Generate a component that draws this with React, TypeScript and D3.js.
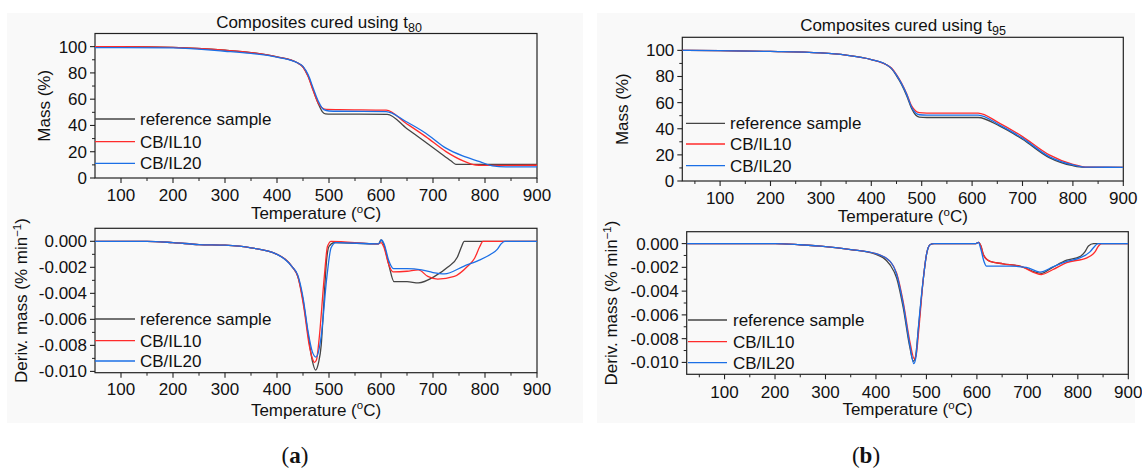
import React from "react";
import * as d3 from "d3";

type Pt = [number, number];

// ---------- DATA ----------
const seriesNames = ["reference sample", "CB/IL10", "CB/IL20"];
const seriesColors = ["#454545", "#ff2b2b", "#1b6fe6"];

const tempTicks = [100, 200, 300, 400, 500, 600, 700, 800, 900];
const massTicks = [0, 20, 40, 60, 80, 100];
const derivTicks = [0, -0.002, -0.004, -0.006, -0.008, -0.01];

// (a) cured using t80 — mass (%)
const massA_ref: Pt[] = [[50,100],[100,100],[200,99.5],[300,97.3],[350,95.5],[400,92.2],[440,87.5],[450,84.5],[460,77.5],[470,66.5],[480,56],[487,50.5],[493,48.8],[505,48.6],[612,48.5],[650,37.5],[680,28.9],[710,20.2],[735,12.9],[744,10.4],[760,10.4],[900,10.4]];
const massA_il10: Pt[] = [[50,100],[100,100],[200,99.5],[300,97.3],[350,95.5],[400,92.2],[440,87.5],[450,84.5],[460,77],[470,66],[480,56.5],[488,53],[495,52.2],[520,52],[610,51.6],[648,41.7],[686,31.5],[725,20.1],[757,13.2],[782,9.9],[795,9.6],[900,9.7]];
const massA_il20: Pt[] = [[50,99.3],[100,99.2],[200,99],[300,96.5],[350,94.8],[400,92],[440,87.5],[450,85],[460,78.5],[470,68],[480,58],[490,52],[500,51],[520,50.8],[610,50.6],[648,43],[686,34.1],[725,22.7],[757,16.8],[790,12.5],[814,9.2],[840,8.4],[900,8.4]];

// (a) cured using t80 — derivative mass (% min^-1)
const derivA_ref: Pt[] = [[50,0],[150,0],[200,-0.0001],[250,-0.00025],[300,-0.0003],[350,-0.0005],[400,-0.001],[430,-0.002],[440,-0.0027],[450,-0.0045],[460,-0.0072],[468,-0.0092],[474,-0.0099],[480,-0.0093],[485,-0.008],[490,-0.0048],[495,-0.0016],[500,-0.0004],[510,-0.0001],[595,-0.0002],[600,0.0001],[605,-0.0002],[615,-0.0018],[625,-0.0031],[650,-0.0031],[672,-0.0032],[703,-0.0027],[728,-0.002],[747,-0.0012],[755,-0.0004],[760,0],[900,0]];
const derivA_il10: Pt[] = [[50,0],[150,0],[200,-0.0001],[250,-0.00025],[300,-0.0003],[350,-0.0005],[400,-0.001],[430,-0.002],[440,-0.0027],[452,-0.0052],[462,-0.008],[468,-0.009],[472,-0.0093],[476,-0.0091],[481,-0.0075],[491,-0.0027],[497,-0.0004],[504,0],[595,-0.0002],[600,-0.0001],[605,-0.0004],[615,-0.0018],[623,-0.00235],[650,-0.0023],[672,-0.0022],[690,-0.0027],[709,-0.0029],[741,-0.0027],[767,-0.0019],[780,-0.0013],[790,-0.0004],[796,0],[900,0]];
const derivA_il20: Pt[] = [[50,0],[150,0],[200,-0.0001],[250,-0.00025],[300,-0.0003],[350,-0.0005],[400,-0.001],[430,-0.002],[440,-0.0026],[450,-0.0043],[460,-0.007],[468,-0.0085],[475,-0.0089],[479,-0.0086],[485,-0.0073],[496,-0.0027],[504,-0.0005],[513,-0.0001],[595,-0.0002],[601,0.0001],[606,-0.0002],[615,-0.0015],[624,-0.0021],[650,-0.0021],[678,-0.0022],[700,-0.0024],[722,-0.0025],[760,-0.0019],[786,-0.0015],[811,-0.001],[824,-0.0006],[831,-0.0002],[838,0],[900,0]];

// (b) cured using t95 — mass (%)
const massB_ref: Pt[] = [[25,100],[100,99.8],[200,99.2],[300,98],[350,96.3],[400,92.9],[430,89],[440,86],[450,80.5],[460,74],[470,65.5],[480,55.5],[488,50.5],[495,48.9],[510,48.6],[612,48.6],[654,42.2],[700,32],[753,17.9],[800,11.7],[822,10.5],[900,10.5]];
const massB_il10: Pt[] = [[25,100],[100,99.8],[200,99.2],[300,98],[350,96.3],[400,93],[430,89],[440,86.5],[450,81.5],[460,75],[470,67],[480,57.5],[488,53.5],[495,52.3],[510,52],[612,52],[654,44.3],[700,34],[753,20],[800,12.8],[830,10.6],[900,10.5]];
const massB_il20: Pt[] = [[25,100],[100,99.8],[200,99.2],[300,98],[350,96.3],[400,93],[430,89],[440,86.2],[450,81],[460,74.5],[470,66.5],[480,56.5],[488,52],[495,50.7],[510,50.4],[612,50.4],[654,43],[700,32.8],[753,18.7],[800,12.3],[825,10.6],[900,10.5]];

// (b) cured using t95 — derivative mass (% min^-1)
const derivB_ref: Pt[] = [[25,0],[150,0],[200,0],[250,-0.0001],[300,-0.00025],[350,-0.0005],[400,-0.0009],[428,-0.0018],[441,-0.0029],[454,-0.0054],[467,-0.0087],[474,-0.0099],[478,-0.0096],[484,-0.0072],[494,-0.0029],[500,-0.00095],[507,-0.0001],[515,0],[598,0],[603,0.0001],[608,-0.0002],[613,-0.00095],[626,-0.0015],[652,-0.0017],[685,-0.0019],[728,-0.0025],[750,-0.002],[778,-0.0014],[804,-0.0011],[814,-0.0007],[821,-0.0002],[831,0],[900,0]];
const derivB_il10: Pt[] = [[25,0],[150,0],[200,0],[250,-0.0001],[300,-0.00025],[350,-0.0005],[400,-0.00085],[428,-0.0015],[441,-0.0025],[454,-0.0049],[467,-0.0082],[476,-0.0097],[480,-0.0093],[485,-0.0072],[494,-0.0029],[500,-0.00095],[507,-0.0001],[515,0],[598,0],[603,0.0001],[608,-0.0002],[613,-0.00095],[626,-0.0015],[652,-0.0017],[685,-0.0019],[728,-0.0026],[750,-0.0022],[778,-0.0016],[818,-0.0012],[834,-0.0007],[841,-0.0002],[847,0],[900,0]];
const derivB_il20: Pt[] = [[25,0],[150,0],[200,0],[250,-0.0001],[300,-0.00025],[350,-0.0005],[400,-0.00085],[428,-0.0015],[441,-0.0026],[454,-0.0051],[467,-0.0085],[475,-0.0101],[479,-0.0096],[484,-0.0071],[494,-0.0029],[500,-0.00095],[507,-0.0001],[515,0],[598,0],[603,0.0001],[608,-0.0005],[614,-0.0015],[619,-0.0019],[665,-0.0019],[698,-0.002],[725,-0.0024],[751,-0.00195],[778,-0.0015],[804,-0.0012],[824,-0.0007],[834,-0.0002],[840,0],[900,0]];

// ---------- RENDER ----------
const FONT = "'Liberation Sans', Arial, Helvetica, sans-serif";
const FS = 17;

const fmtMass = (v: number) => String(v);
const fmtDeriv = (v: number) => (v === 0 ? "0.000" : "-" + Math.abs(v).toFixed(3));

interface PanelProps {
  box: [number, number, number, number];
  xDomain: [number, number];
  yDomain: [number, number];
  yTicks: number[];
  yMinor: number[];
  xMinor: number[];
  fmt: (v: number) => string;
  series: Pt[][];
  legend: { x0: number; x1: number; tx: number; ys: number[] };
  yLabel: React.ReactNode;
  yLabelX: number;
  xLabelY: number;
  tickLabelY: number;
}

function TempLabel({ x, y }: { x: number; y: number }) {
  return (
    <text x={x} y={y} textAnchor="middle" fontFamily={FONT} fontSize={FS} fill="#111">
      Temperature (<tspan fontSize={11.5} dy={-6.5}>o</tspan>
      <tspan dy={6.5}>C)</tspan>
    </text>
  );
}

function Panel(p: PanelProps) {
  const [x0, x1, yT, yB] = p.box;
  const xs = d3.scaleLinear().domain(p.xDomain).range([x0, x1]);
  const ys = d3.scaleLinear().domain(p.yDomain).range([yB, yT]);
  const line = d3
    .line<Pt>()
    .x((d) => xs(d[0]))
    .y((d) => ys(d[1]))
    .curve(d3.curveMonotoneX);
  const xc = (x0 + x1) / 2;
  const yc = (yT + yB) / 2;
  const cid = "clip" + Math.round(x0) + "_" + Math.round(yT);
  return (
    <g>
      <rect x={x0} y={yT} width={x1 - x0} height={yB - yT} fill="none" stroke="#222" strokeWidth={1.2} />
      {tempTicks.map((t) => (
        <g key={"xt" + t}>
          <line x1={xs(t)} x2={xs(t)} y1={yB} y2={yB + 5} stroke="#222" strokeWidth={1.1} />
          <text x={xs(t)} y={p.tickLabelY} textAnchor="middle" fontFamily={FONT} fontSize={FS} fill="#111">
            {t}
          </text>
        </g>
      ))}
      {p.xMinor.map((t) => (
        <line key={"xm" + t} x1={xs(t)} x2={xs(t)} y1={yB} y2={yB + 3} stroke="#222" strokeWidth={1} />
      ))}
      {p.yTicks.map((v) => (
        <g key={"yt" + v}>
          <line x1={x0 - 5} x2={x0} y1={ys(v)} y2={ys(v)} stroke="#222" strokeWidth={1.1} />
          <text x={x0 - 8} y={ys(v) + 6} textAnchor="end" fontFamily={FONT} fontSize={FS} fill="#111">
            {p.fmt(v)}
          </text>
        </g>
      ))}
      {p.yMinor.map((v) => (
        <line key={"ym" + v} x1={x0 - 3} x2={x0} y1={ys(v)} y2={ys(v)} stroke="#222" strokeWidth={1} />
      ))}
      <clipPath id={cid}>
        <rect x={x0} y={yT} width={x1 - x0} height={yB - yT} />
      </clipPath>
      <g clipPath={`url(#${cid})`}>
        {p.series.map((s, i) => (
          <path key={i} d={line(s) || ""} fill="none" stroke={seriesColors[i]} strokeWidth={1.3} />
        ))}
      </g>
      {seriesNames.map((n, i) => (
        <g key={n}>
          <line x1={p.legend.x0} x2={p.legend.x1} y1={p.legend.ys[i]} y2={p.legend.ys[i]} stroke={seriesColors[i]} strokeWidth={1.3} />
          <text x={p.legend.tx} y={p.legend.ys[i] + 6} fontFamily={FONT} fontSize={FS} fill="#111">
            {n}
          </text>
        </g>
      ))}
      <TempLabel x={xc} y={p.xLabelY} />
      <text
        transform={`translate(${p.yLabelX + 6},${yc}) rotate(-90)`}
        textAnchor="middle"
        fontFamily={FONT}
        fontSize={FS}
        fill="#111"
      >
        {p.yLabel}
      </text>
    </g>
  );
}

const massMinor = [10, 30, 50, 70, 90];
const derivMinor = [-0.001, -0.003, -0.005, -0.007, -0.009];
const xMinorA = [150, 250, 350, 450, 550, 650, 750, 850];
const xMinorB = [50, 150, 250, 350, 450, 550, 650, 750, 850];

const derivLabel = (
  <>
    Deriv. mass (% min<tspan fontSize={11.5} dy={-6.5}>−1</tspan>
    <tspan dy={6.5}>)</tspan>
  </>
);

export default function App() {
  return (
    <svg width={1142} height={468} style={{ position: "absolute", left: 0, top: 0, background: "#fff" }}>
      <rect x={7} y={13} width={576} height={410} fill="#f9f9f9" />
      <rect x={597} y={13} width={538} height={410} fill="#f9f9f9" />

      {/* (a) */}
      <text x={319} y={28} textAnchor="middle" fontFamily={FONT} fontSize={FS} fill="#111">
        Composites cured using t<tspan fontSize={12.5} dy={4}>80</tspan>
      </text>
      <Panel
        box={[95, 537, 33.5, 178]}
        xDomain={[50, 900]}
        yDomain={[0, 110]}
        yTicks={massTicks}
        yMinor={massMinor}
        xMinor={xMinorA}
        fmt={fmtMass}
        series={[massA_ref, massA_il10, massA_il20]}
        legend={{ x0: 95, x1: 135, tx: 140, ys: [119, 141.7, 163.3] }}
        yLabel="Mass (%)"
        yLabelX={44}
        xLabelY={219}
        tickLabelY={201}
      />
      <Panel
        box={[95, 537, 228.3, 372.7]}
        xDomain={[50, 900]}
        yDomain={[-0.0101, 0.001]}
        yTicks={derivTicks}
        yMinor={derivMinor}
        xMinor={xMinorA}
        fmt={fmtDeriv}
        series={[derivA_ref, derivA_il10, derivA_il20]}
        legend={{ x0: 95, x1: 135, tx: 140, ys: [319, 340.7, 361] }}
        yLabel={derivLabel}
        yLabelX={21}
        xLabelY={415.5}
        tickLabelY={395}
      />

      {/* (b) */}
      <text x={903} y={31} textAnchor="middle" fontFamily={FONT} fontSize={FS} fill="#111">
        Composites cured using t<tspan fontSize={12.5} dy={4}>95</tspan>
      </text>
      <Panel
        box={[682.3, 1123.3, 37.3, 181]}
        xDomain={[25, 900]}
        yDomain={[0, 110]}
        yTicks={massTicks}
        yMinor={massMinor}
        xMinor={xMinorB}
        fmt={fmtMass}
        series={[massB_ref, massB_il10, massB_il20]}
        legend={{ x0: 686, x1: 725, tx: 730, ys: [123.3, 144, 165.7] }}
        yLabel="Mass (%)"
        yLabelX={622}
        xLabelY={222}
        tickLabelY={204}
      />
      <Panel
        box={[686.7, 1128.3, 231.7, 374.3]}
        xDomain={[25, 900]}
        yDomain={[-0.011, 0.001]}
        yTicks={derivTicks}
        yMinor={derivMinor}
        xMinor={xMinorB}
        fmt={fmtDeriv}
        series={[derivB_ref, derivB_il10, derivB_il20]}
        legend={{ x0: 688, x1: 727, tx: 733, ys: [320, 341.7, 362.7] }}
        yLabel={derivLabel}
        yLabelX={611}
        xLabelY={415}
        tickLabelY={398}
      />

      <text x={295} y={463} textAnchor="middle" fontFamily="'Liberation Serif', 'Times New Roman', serif" fontSize={23} fill="#111">
        (<tspan fontWeight="bold">a</tspan>)
      </text>
      <text x={866} y={463} textAnchor="middle" fontFamily="'Liberation Serif', 'Times New Roman', serif" fontSize={23} fill="#111">
        (<tspan fontWeight="bold">b</tspan>)
      </text>
    </svg>
  );
}
